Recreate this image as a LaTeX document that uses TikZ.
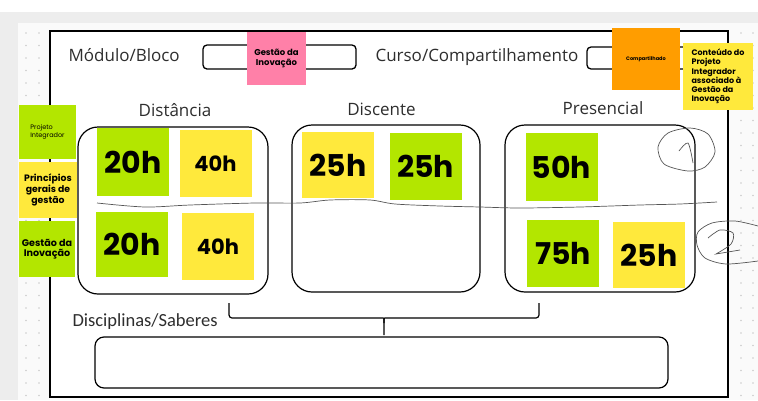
\documentclass[tikz,border=0pt]{standalone}
\usepackage{fontspec}
\setmainfont{Open Sans}
\newfontfamily\notefont{Poppins}
\newfontfamily\narrowfont{Carlito}
\usetikzlibrary{positioning}

\definecolor{notegreen}{HTML}{B3E600}
\definecolor{noteyellow}{HTML}{FFE93C}
\definecolor{notepink}{HTML}{FF80A8}
\definecolor{noteorange}{HTML}{FF9D00}
\definecolor{bandgray}{HTML}{EDEDED}
\definecolor{canvas}{HTML}{FAFAFA}
\definecolor{dotgray}{HTML}{CCCCCC}
\definecolor{labelgray}{HTML}{2E2E2E}
\definecolor{inkgray}{HTML}{555555}

\tikzset{
  note/.style={inner sep=0pt, align=center, text=black},
  green note/.style={note, fill=notegreen},
  yellow note/.style={note, fill=noteyellow},
  big note/.style={minimum width=72pt, minimum height=67pt},
  hours/.style={font=\notefont\bfseries\fontsize{30}{32}\selectfont},
  small hours/.style={font=\notefont\bfseries\fontsize{21}{23}\selectfont},
  group box/.style={draw, line width=1.2pt, rounded corners=20pt, minimum height=167pt},
  header label/.style={font=\fontsize{17}{19}\selectfont, text=labelgray},
  field box/.style={draw, line width=1.3pt, rounded corners=4pt},
  brace line/.style={line width=1.2pt, rounded corners=3pt},
  ink/.style={draw=inkgray, line width=0.7pt}
}

\begin{document}
\begin{tikzpicture}[x=1pt, y=-1pt]
\useasboundingbox (0,0) rectangle (758,400);

% background
\fill[white] (0,0) rectangle (758,400);
\fill[bandgray] (0,12) rectangle (758,400);
\fill[canvas] (18,23) rectangle (758,400);
\foreach \x in {26,39,741,753}
  \foreach \y in {33,45.5,...,396}
    \fill[dotgray] (\x,\y) circle (0.8pt);
\filldraw[fill=white, draw=black, line width=2pt] (50,31) rectangle (728,397);

% header
\node[header label, anchor=west] (modulo) at (65,55) {Módulo/Bloco};
\node[field box, minimum width=153pt, minimum height=24pt] (modulobox) at (279.5,57) {};
\node[header label, anchor=west] (curso) at (372,57) {Curso/Compartilhamento};
\node[field box, minimum width=110pt, minimum height=22pt] (cursobox) at (642,58) {};

\node[note, fill=notepink, minimum width=59pt, minimum height=53pt,
  font=\notefont\bfseries\fontsize{8.5}{10}\selectfont] (gestaopink) at (276.5,58.5) {Gestão da\\Inovação};
\node[note, fill=noteorange, minimum width=68pt, minimum height=62pt,
  font=\notefont\bfseries\fontsize{5}{6}\selectfont] (compartilhado) at (646,59) {Compartilhado};
\node[yellow note, minimum width=70pt, minimum height=67pt, align=left,
  font=\notefont\bfseries\fontsize{8}{9.2}\selectfont] (conteudo) at (718,76.5)
  {Conteúdo do\\Projeto\\Integrador\\associado à\\Gestão da\\Inovação};

% columns
\node[header label] (distancia) at (175,110) {Distância};
\node[header label] (discente) at (381.5,109) {Discente};
\node[header label] (presencial) at (603,108) {Presencial};

\node[group box, minimum width=190pt] (dist) at (173,210.5) {};
\node[group box, minimum width=188pt] (disc) at (386,208.5) {};
\node[group box, minimum width=190pt] (pres) at (600,208.5) {};

% side notes
\node[green note, minimum width=57pt, minimum height=54pt,
  font=\notefont\fontsize{6.5}{7.5}\selectfont, align=left] (projeto) at (47.5,132) {Projeto\\Integrador};
\node[yellow note, minimum width=58pt, minimum height=56pt,
  font=\notefont\bfseries\fontsize{9.3}{10.6}\selectfont] (principios) at (48,190) {Princípios\\gerais de\\gestão};
\node[green note, minimum width=56pt, minimum height=56pt,
  font=\notefont\bfseries\fontsize{9.6}{10.5}\selectfont] (gestao) at (47,249) {Gestão da\\Inovação};

% hour notes
\node[green note, big note, minimum height=68pt, hours] (dist20a) at (133,162) {20h};
\node[yellow note, big note, small hours] (dist40a) at (215.5,163.5) {40h};
\node[green note, big note, minimum height=65pt, hours] (dist20b) at (132,244.5) {20h};
\node[yellow note, big note, small hours] (dist40b) at (218,246.5) {40h};

\node[yellow note, big note, minimum height=66pt, hours] (disc25a) at (338,165) {25h};
\node[green note, big note, hours] (disc25b) at (425.5,166.5) {25h};

\node[green note, big note, minimum height=68pt, hours] (pres50) at (561.5,167) {50h};
\node[green note, big note, hours] (pres75) at (563,253.5) {75h};
\node[yellow note, big note, minimum height=66pt, hours] (pres25) at (649,255) {25h};

% bottom
\node[anchor=west, font=\narrowfont\fontsize{18.5}{20}\selectfont, text=labelgray] (disciplinas) at (69,322) {Disciplinas/Saberes};
\node[draw, line width=1.2pt, rounded corners=9pt, minimum width=573pt, minimum height=51pt] (saberes) at (381.5,362.5) {};

\coordinate (brace left) at (229,303);
\coordinate (brace right) at (539,303);
\coordinate (brace tip) at (384,335);
\draw[brace line] (brace left) -- (229,318) -- (380,318) .. controls (384,318) .. (384,323) -- (brace tip);
\draw[brace line] (brace right) -- (539,318) -- (388,318) .. controls (384,318) .. (384,323);

% handwriting
\draw[ink] plot[smooth] coordinates {(97,203) (145,207) (190,205) (255,203) (300,203) (330,200) (370,200) (395,204) (440,206) (480,207) (520,208) (580,207) (640,205) (680,204) (717,202)};
\draw[ink] plot[smooth cycle] coordinates {(668,133) (690,128) (708,134) (715,152) (705,167) (688,171) (664,164) (658,147)};
\draw[ink] plot[smooth] coordinates {(679,151) (688,143) (693,163)};
\draw[ink] plot[smooth] coordinates {(758,226) (735,221) (712,223) (698,232) (697,245) (705,258) (726,264) (758,261)};
\draw[ink] plot[smooth] coordinates {(708,238) (720,230) (733,233) (731,244) (716,254)} -- (740,250);

\end{tikzpicture}
\end{document}
